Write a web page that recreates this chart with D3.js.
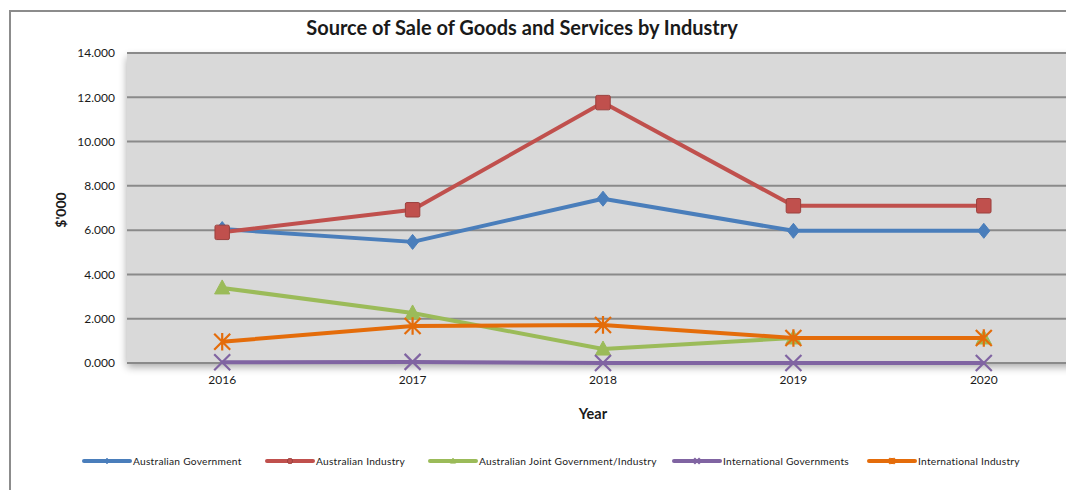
<!DOCTYPE html>
<html>
<head>
<meta charset="utf-8">
<script src="https://cdn.jsdelivr.net/npm/d3@7"></script>
<style>
  html, body { margin: 0; padding: 0; background: #fff; }
  svg { display: block; }
  text { font-family: Lato, "Open Sans", sans-serif; fill: #1a1a1a; }
</style>
</head>
<body>
<svg id="chart" width="1066" height="490"></svg>
<script>
// Source of sale by year, in $'000
const years = ["2016", "2017", "2018", "2019", "2020"];
const seriesNames = [
  "Australian Government",
  "Australian Industry",
  "Australian Joint Government/Industry",
  "International Governments",
  "International Industry"
];
const australianGovernment = [6.05, 5.47, 7.42, 5.97, 5.97];
const australianIndustry   = [5.90, 6.92, 11.76, 7.10, 7.10];
const australianJoint      = [3.39, 2.26, 0.63, 1.13, 1.13];
const internationalGovts   = [0.03, 0.05, 0.00, 0.00, 0.00];
const internationalIndustry= [0.96, 1.67, 1.72, 1.13, 1.13];
const yTicks = [0, 2, 4, 6, 8, 10, 12, 14];

const seriesValues = [australianGovernment, australianIndustry, australianJoint, internationalGovts, internationalIndustry];
const colors = ["#4a7ebb", "#c0504d", "#9bbb59", "#8064a2", "#e46c0a"];
const markers = ["diamond", "square", "triangle", "x", "star"];

const svg = d3.select("#chart");

// Outer chart frame (continues past the right and bottom edge)
svg.append("rect")
  .attr("x", 10).attr("y", 11).attr("width", 1100).attr("height", 520)
  .attr("fill", "#fff").attr("stroke", "#8c8c8c").attr("stroke-width", 2);

const plot = { left: 127, right: 1079, top: 53, bottom: 363 };

const x = d3.scaleBand().domain(years).range([plot.left, plot.right]);
const y = d3.scaleLinear().domain([0, 14]).range([plot.bottom, plot.top]);

// Soft drop shadow under the plot area
const defs = svg.append("defs");
const f = defs.append("filter").attr("id", "shadow")
  .attr("x", "-5%").attr("y", "-5%").attr("width", "110%").attr("height", "120%");
f.append("feGaussianBlur").attr("in", "SourceAlpha").attr("stdDeviation", 4);
f.append("feOffset").attr("dx", 0).attr("dy", 4).attr("result", "ob");
f.append("feComponentTransfer").append("feFuncA").attr("type", "linear").attr("slope", 0.35);
const fm = f.append("feMerge");
fm.append("feMergeNode");
fm.append("feMergeNode").attr("in", "SourceGraphic");

svg.append("rect")
  .attr("x", plot.left).attr("y", plot.top)
  .attr("width", plot.right - plot.left).attr("height", plot.bottom - plot.top)
  .attr("fill", "#d9d9d9")
  .attr("filter", "url(#shadow)");

// Gridlines
svg.append("g")
  .selectAll("line").data(yTicks).join("line")
  .attr("x1", plot.left).attr("x2", plot.right)
  .attr("y1", d => y(d)).attr("y2", d => y(d))
  .attr("stroke", "#8a8a8a").attr("stroke-width", 2);

// Y axis labels
const yAxis = d3.axisLeft(y).tickValues(yTicks).tickFormat(d3.format(".3f")).tickSize(0).tickPadding(12);
const gy = svg.append("g").attr("transform", `translate(${plot.left},0)`).call(yAxis);
gy.select(".domain").remove();
gy.selectAll("text").attr("font-size", 12).attr("fill", "#1a1a1a")
  .attr("font-family", "Lato, sans-serif");

// X axis labels
const xAxis = d3.axisBottom(x).tickSize(0).tickPadding(12);
const gx = svg.append("g").attr("transform", `translate(0,${plot.bottom})`).call(xAxis);
gx.select(".domain").remove();
gx.selectAll("text").attr("font-size", 12).attr("fill", "#1a1a1a")
  .attr("font-family", "Lato, sans-serif");

// Marker drawing
function drawMarker(g, type, color, size) {
  const s = size;
  if (type === "diamond") {
    g.append("path").attr("d", `M0,${-s}L${s * 0.8},0L0,${s}L${-s * 0.8},0Z`)
      .attr("fill", color).attr("stroke", color).attr("stroke-width", 1);
  } else if (type === "square") {
    g.append("rect").attr("x", -s * 0.85).attr("y", -s * 0.85)
      .attr("width", s * 1.7).attr("height", s * 1.7).attr("rx", 1.5)
      .attr("fill", color).attr("stroke", d3.color(color).darker(0.6)).attr("stroke-width", 1);
  } else if (type === "triangle") {
    g.append("path").attr("d", `M0,${-s}L${s * 0.95},${s * 0.75}L${-s * 0.95},${s * 0.75}Z`)
      .attr("fill", color).attr("stroke", color).attr("stroke-width", 1);
  } else if (type === "x") {
    g.append("path").attr("d", `M${-s},${-s}L${s},${s}M${-s},${s}L${s},${-s}`)
      .attr("stroke", color).attr("stroke-width", 2.2).attr("fill", "none");
  } else if (type === "star") {
    g.append("path").attr("d", `M${-s},${-s}L${s},${s}M${-s},${s}L${s},${-s}M0,${-s * 1.1}L0,${s * 1.1}`)
      .attr("stroke", color).attr("stroke-width", 2.2).attr("fill", "none");
  }
}

const line = d3.line().x((d, i) => x(years[i]) + x.bandwidth() / 2).y(d => y(d));

const seriesG = svg.append("g");
const sizes = [7.5, 8.5, 8, 8, 8];
seriesValues.forEach((vals, si) => {
  const g = seriesG.append("g");
  g.append("path").datum(vals)
    .attr("d", line)
    .attr("fill", "none")
    .attr("stroke", colors[si])
    .attr("stroke-width", 4)
    .attr("stroke-linejoin", "round");
  vals.forEach((v, i) => {
    const mg = g.append("g")
      .attr("transform", `translate(${x(years[i]) + x.bandwidth() / 2},${y(v)})`);
    drawMarker(mg, markers[si], colors[si], sizes[si]);
  });
});

// Title
svg.append("text")
  .attr("x", 522).attr("y", 35)
  .attr("text-anchor", "middle")
  .attr("font-size", 20).attr("font-weight", "bold")
  .text("Source of Sale of Goods and Services by Industry");

// Axis titles
svg.append("text")
  .attr("transform", "translate(66,210) rotate(-90)")
  .attr("text-anchor", "middle")
  .attr("font-size", 14).attr("font-weight", "bold")
  .text("$'000");

svg.append("text")
  .attr("x", 593).attr("y", 419)
  .attr("text-anchor", "middle")
  .attr("font-size", 14.5).attr("font-weight", "bold")
  .text("Year");

// Legend
const legendX = [84, 267, 430, 674, 869];
const legendY = 461;
const leg = svg.append("g");
seriesNames.forEach((name, si) => {
  const g = leg.append("g").attr("transform", `translate(${legendX[si]},${legendY})`);
  g.append("line").attr("x1", 0).attr("x2", 46).attr("y1", 0).attr("y2", 0)
    .attr("stroke", colors[si]).attr("stroke-width", 4).attr("stroke-linecap", "round");
  const mg = g.append("g").attr("transform", "translate(23,0)");
  drawMarker(mg, markers[si], colors[si], 2.8);
  g.append("text").attr("x", 49).attr("y", 3.5)
    .attr("font-size", 10.2).attr("fill", "#1a1a1a")
    .attr("letter-spacing", 0.25)
    .text(name);
});
</script>
</body>
</html>
